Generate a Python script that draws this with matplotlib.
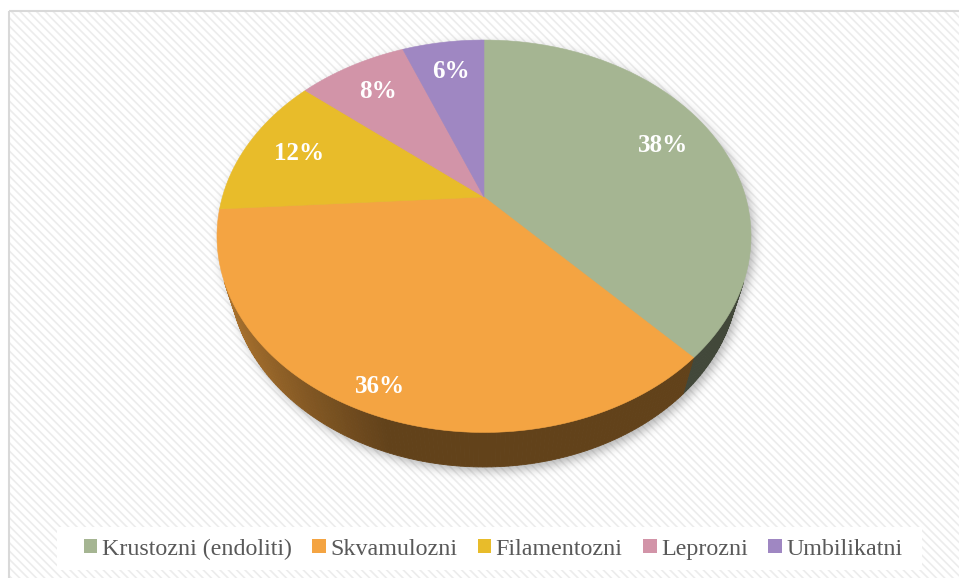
import numpy as np
import matplotlib
matplotlib.use('Agg')
import matplotlib.pyplot as plt
from matplotlib.patches import Polygon, Rectangle, Patch
from matplotlib.path import Path
import matplotlib.colors as mcolors

# ---------------- data ----------------
categories = ['Krustozni (endoliti)', 'Skvamulozni', 'Filamentozni', 'Leprozni', 'Umbilikatni']
values = [38, 36, 12, 8, 6]
colors = ['#A5B592', '#F4A442', '#E8BC2A', '#D294A8', '#9F87C2']

# ---------------- style / layout ----------------
LABEL_R = [0.78, 0.90, 0.78, 0.78, 0.78]
W, H = 959, 578
CX, CY, S = 484.0, 197.0, 261.6      # pie centre on screen, scale
SE, CE = 0.72, 0.694                  # sin / cos of elevation
DIST = 3.47                           # camera distance (radius units)
HGT = 0.22                            # pie thickness (radius units)

plt.rcParams['hatch.linewidth'] = 1.2

fig = plt.figure(figsize=(W / 100, H / 100), dpi=100)
ax = fig.add_axes([0, 0, 1, 1])


def proj(x, y, z):
    d = 1 + (y * CE - z * SE) / DIST
    return CX + S * x / d, CY - S * (y * SE + z * CE) / d


# background with diagonal stripes + border
ax.add_patch(Rectangle((8, 10), W, H, facecolor='white', edgecolor='#ececec',
                       linewidth=0, hatch='\\\\\\\\', zorder=0))
ax.add_patch(Rectangle((8.5, 10.5), W, H, facecolor='none', edgecolor='#d9d9d9',
                       linewidth=1.5, zorder=1))

# ---------------- shadow ----------------
th_all = np.linspace(0, 2 * np.pi, 400)
top_xy = np.column_stack(proj(np.cos(th_all), np.sin(th_all), 0 * th_all))
bot_xy = np.column_stack(proj(np.cos(th_all), np.sin(th_all), -HGT + 0 * th_all))
x0, x1 = 170, 800
y0, y1 = 0, 520
gx, gy = np.meshgrid(np.arange(x0, x1), np.arange(y0, y1))
pts = np.column_stack([gx.ravel() - 3, gy.ravel() - 5])
mask = (Path(top_xy).contains_points(pts) | Path(bot_xy).contains_points(pts)).reshape(gx.shape).astype(float)
sig = 5.0
kx = np.arange(-15, 16)
ker = np.exp(-kx ** 2 / (2 * sig ** 2))
ker /= ker.sum()
blur = np.array([np.convolve(r, ker, mode='same') for r in mask])
blur = np.array([np.convolve(c, ker, mode='same') for c in blur.T]).T
rgba = np.zeros(mask.shape + (4,))
rgba[..., :3] = 0.35
rgba[..., 3] = 0.45 * blur
ax.imshow(rgba, extent=(x0 - 0.5, x1 - 0.5, y1 - 0.5, y0 - 0.5), origin='upper',
          aspect='auto', zorder=2, interpolation='bilinear')

# ---------------- pie ----------------
total = float(sum(values))
cum = np.concatenate([[0], np.cumsum(values)]) / total
t_edges = 90 - 360 * cum            # degrees, clockwise from top
vis = np.degrees(np.arcsin(1 / (DIST * CE)))
vis_lo, vis_hi = -180 + vis, -vis


def shade(tdeg):
    c = -np.cos(np.radians(tdeg))
    return 0.40 + 0.35 * np.clip((c - 0.3) / 0.7, 0, 1)


# walls
for i, col in enumerate(colors):
    a, b = t_edges[i + 1], t_edges[i]          # a < b
    lo, hi = max(a, vis_lo), min(b, vis_hi)
    if lo >= hi:
        continue
    n = max(2, int((hi - lo) / 0.8) + 1)
    ts = np.linspace(lo, hi, n)
    base = np.array(mcolors.to_rgb(col))
    for j in range(n - 1):
        ta, tb = np.radians(ts[j]), np.radians(ts[j + 1])
        p1 = proj(np.cos(ta), np.sin(ta), 0)
        p2 = proj(np.cos(tb), np.sin(tb), 0)
        p3 = proj(np.cos(tb), np.sin(tb), -HGT)
        p4 = proj(np.cos(ta), np.sin(ta), -HGT)
        c = np.clip(base * shade((ts[j] + ts[j + 1]) / 2), 0, 1)
        ax.add_patch(Polygon([p1, p2, p3, p4], closed=True, facecolor=c,
                             edgecolor=c, linewidth=0.6, zorder=3))

# top faces
for i, col in enumerate(colors):
    a, b = t_edges[i + 1], t_edges[i]
    ts = np.radians(np.linspace(b, a, max(3, int((b - a) / 0.5) + 1)))
    xs, ys = proj(np.cos(ts), np.sin(ts), 0 * ts)
    poly = [(CX, CY)] + list(zip(xs, ys))
    ax.add_patch(Polygon(poly, closed=True, facecolor=col, edgecolor=col,
                         linewidth=0.4, zorder=4))

# labels
for i, v in enumerate(values):
    tm = np.radians((t_edges[i] + t_edges[i + 1]) / 2)
    r = LABEL_R[i]
    lx, ly = proj(r * np.cos(tm), r * np.sin(tm), 0)
    ax.text(lx, ly, f'{v}%', ha='center', va='center', color='white',
            fontsize=18, fontweight='bold', family='Liberation Serif', zorder=6)

# ---------------- legend ----------------
ax.add_patch(Rectangle((57, 527), 865, 43, facecolor='white', edgecolor='none', zorder=5))
handles = [Patch(facecolor=c, edgecolor='none') for c in colors]
leg = fig.legend(handles, categories, loc='center', bbox_to_anchor=(493 / W, 1 - 549 / H),
                 ncol=5, frameon=False, prop={'family': 'Liberation Serif', 'size': 17.3},
                 handlelength=0.57, handleheight=0.57, handletextpad=0.18,
                 columnspacing=0.85, labelcolor='#595959')
leg.set_zorder(10)

ax.set_xlim(0, W)
ax.set_ylim(H, 0)
ax.axis('off')
fig.savefig('out.png', dpi=100)
